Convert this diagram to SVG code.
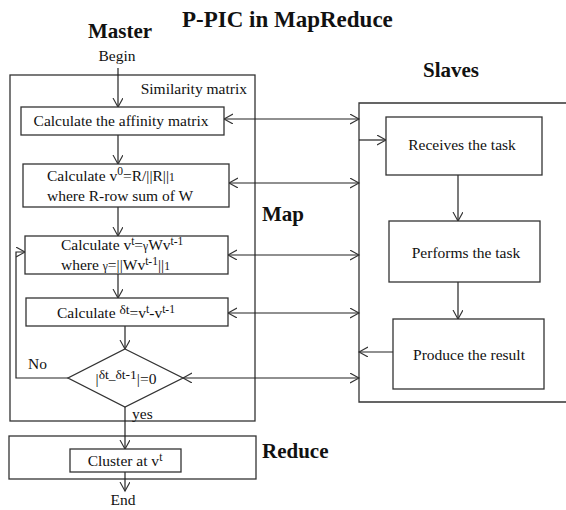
<svg xmlns="http://www.w3.org/2000/svg" width="566" height="510" viewBox="0 0 566 510">
<style>
text{font-family:"Liberation Serif","Times New Roman",serif;fill:#111;}
.t{font-size:15.5px;}
.h{font-size:21px;font-weight:bold;}
.s{font-size:11.5px;}
.d{font-size:13.5px;}
.box{fill:#fff;stroke:#333;stroke-width:1.3;}
.frame{fill:none;stroke:#333;stroke-width:1.3;}
.c{fill:none;stroke:#222;stroke-width:1.2;}
</style>
<defs>
<marker id="ar" markerUnits="userSpaceOnUse" markerWidth="12" markerHeight="12" refX="9" refY="5" orient="auto-start-reverse">
<path d="M0,0 L9,5 L0,10" fill="none" stroke="#333" stroke-width="1.1"/>
</marker>
</defs>
<rect width="566" height="510" fill="#fff"/>
<text x="182" y="27" style="font-size:23px;font-weight:bold">P-PIC in MapReduce</text>
<text x="88" y="38" class="h">Master</text>
<text x="117" y="61" class="t" text-anchor="middle">Begin</text>
<text x="423" y="77" class="h">Slaves</text>
<text x="262" y="221" class="h">Map</text>
<text x="262" y="458" class="h">Reduce</text>
<g id="master-frame">
<rect x="10" y="75" width="245" height="346" class="frame"/>
<text x="247" y="94" class="t" text-anchor="end">Similarity matrix</text>
</g>
<g id="reduce-frame">
<rect x="9" y="436" width="247" height="43" class="frame"/>
</g>
<g id="slaves-frame">
<path d="M566,103 H359 V402 H566" class="frame"/>
</g>
<g id="connectors">
<line x1="118" y1="68" x2="118" y2="107" class="c" marker-end="url(#ar)"/>
<line x1="118" y1="135" x2="118" y2="164" class="c" marker-end="url(#ar)"/>
<line x1="118" y1="207" x2="118" y2="236" class="c" marker-end="url(#ar)"/>
<line x1="118" y1="274" x2="118" y2="298" class="c" marker-end="url(#ar)"/>
<line x1="125" y1="326" x2="125" y2="349" class="c" marker-end="url(#ar)"/>
<path d="M68,378 H16 V252 H25" class="c" marker-end="url(#ar)"/>
<line x1="125" y1="407" x2="125" y2="449" class="c" marker-end="url(#ar)"/>
<line x1="125" y1="472" x2="125" y2="491" class="c" marker-end="url(#ar)"/>
<line x1="224" y1="119" x2="359" y2="119" class="c" marker-start="url(#ar)" marker-end="url(#ar)"/>
<line x1="229" y1="183" x2="359" y2="183" class="c" marker-start="url(#ar)" marker-end="url(#ar)"/>
<line x1="228" y1="255" x2="359" y2="255" class="c" marker-start="url(#ar)" marker-end="url(#ar)"/>
<line x1="228" y1="313" x2="359" y2="313" class="c" marker-start="url(#ar)" marker-end="url(#ar)"/>
<line x1="183" y1="378" x2="359" y2="378" class="c" marker-start="url(#ar)" marker-end="url(#ar)"/>
<line x1="393" y1="352" x2="359" y2="352" class="c" marker-end="url(#ar)"/>
<line x1="359" y1="140" x2="386" y2="140" class="c" marker-end="url(#ar)"/>
<line x1="458" y1="175" x2="458" y2="221" class="c" marker-end="url(#ar)"/>
<line x1="458" y1="282" x2="458" y2="319" class="c" marker-end="url(#ar)"/>
<text x="28" y="369" class="t">No</text>
<text x="132" y="419" class="t">yes</text>
</g>
<g id="affinity">
<rect x="21" y="107" width="203" height="28" class="box"/>
<text x="121" y="126" class="t" text-anchor="middle">Calculate the affinity matrix</text>
</g>
<g id="v0">
<rect x="23" y="164" width="206" height="43" class="box"/>
<text x="47" y="181" class="t">Calculate v<tspan class="s" dy="-6">0</tspan><tspan dy="6">=R/||R||</tspan><tspan class="s">1</tspan></text>
<text x="47" y="201" class="t">where R-row sum of W</text>
</g>
<g id="vt">
<rect x="25" y="236" width="203" height="38" class="box"/>
<text x="61" y="250" class="t">Calculate v<tspan class="s" dy="-5">t</tspan><tspan dy="5">=</tspan><tspan class="s">γ</tspan>Wv<tspan class="s" dy="-5">t-1</tspan></text>
<text x="61" y="270" class="t">where <tspan class="s">γ</tspan>=||Wv<tspan class="s" dy="-5">t-1</tspan><tspan dy="5">||</tspan><tspan class="s">1</tspan></text>
</g>
<g id="delta">
<rect x="26" y="298" width="202" height="28" class="box"/>
<text x="57" y="318" class="t">Calculate <tspan class="d" dy="-4">δt</tspan><tspan dy="4">=v</tspan><tspan class="s" dy="-5">t</tspan><tspan dy="5">-v</tspan><tspan class="s" dy="-5">t-1</tspan></text>
</g>
<g id="check">
<polygon points="125,349 183,378 125,407 68,378" class="box"/>
<text x="126" y="384" class="t" text-anchor="middle">|<tspan class="d" dy="-5">δt</tspan><tspan class="d">_</tspan><tspan class="d">δt-1</tspan><tspan dy="5">|=0</tspan></text>
</g>
<g id="cluster">
<rect x="70" y="449" width="111" height="23" class="box"/>
<text x="125" y="466" class="t" text-anchor="middle">Cluster at v<tspan class="s" dy="-5">t</tspan></text>
</g>
<text x="123" y="505" class="t" text-anchor="middle">End</text>
<g id="receives">
<rect x="386" y="117" width="156" height="58" class="box"/>
<text x="462" y="150" class="t" text-anchor="middle">Receives the task</text>
</g>
<g id="performs">
<rect x="389" y="221" width="151" height="61" class="box"/>
<text x="466" y="258" class="t" text-anchor="middle">Performs the task</text>
</g>
<g id="produce">
<rect x="393" y="319" width="151" height="70" class="box"/>
<text x="469" y="360" class="t" text-anchor="middle">Produce the result</text>
</g>
</svg>
